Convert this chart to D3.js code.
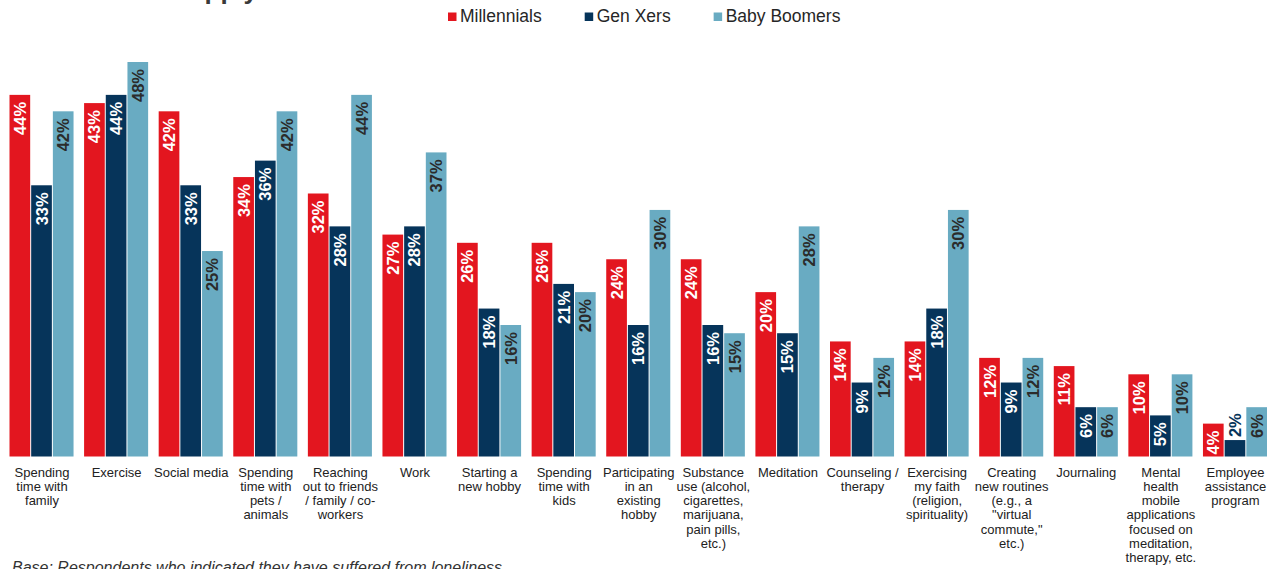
<!DOCTYPE html>
<html>
<head>
<meta charset="utf-8">
<script src="https://cdn.jsdelivr.net/npm/d3@7"></script>
<style>
  html, body { margin: 0; padding: 0; background: #fff; overflow: hidden; }
  svg { display: block; font-family: "Liberation Sans", Arial, sans-serif; }
</style>
</head>
<body>
<script>
// categories, each one is a list of label lines
var categories = [
  ["Spending", "time with", "family"],
  ["Exercise"],
  ["Social media"],
  ["Spending", "time with", "pets /", "animals"],
  ["Reaching", "out to friends", "/ family / co-", "workers"],
  ["Work"],
  ["Starting a", "new hobby"],
  ["Spending", "time with", "kids"],
  ["Participating", "in an", "existing", "hobby"],
  ["Substance", "use (alcohol,", "cigarettes,", "marijuana,", "pain pills,", "etc.)"],
  ["Meditation"],
  ["Counseling /", "therapy"],
  ["Exercising", "my faith", "(religion,", "spirituality)"],
  ["Creating", "new routines", "(e.g., a", "\"virtual", "commute,\"", "etc.)"],
  ["Journaling"],
  ["Mental", "health", "mobile", "applications", "focused on", "meditation,", "therapy, etc."],
  ["Employee", "assistance", "program"]
];

var seriesNames = ["Millennials", "Gen Xers", "Baby Boomers"];

var millennials = [44, 43, 42, 34, 32, 27, 26, 26, 24, 24, 20, 14, 14, 12, 11, 10, 4];
var genXers     = [33, 44, 33, 36, 28, 28, 18, 21, 16, 16, 15,  9, 18,  9,  6,  5, 2];
var boomers     = [42, 48, 25, 42, 44, 37, 16, 20, 30, 15, 28, 12, 30, 12,  6, 10, 6];

var colors = ["#e3161f", "#06345a", "#69abc2"];
var labelColors = ["#ffffff", "#ffffff", "#2b2b2b"];

var width = 1267, height = 569;
var baseY = 456.5, topY = 62;

var svg = d3.select("body").append("svg")
  .attr("width", width)
  .attr("height", height);

var catKeys = categories.map(function(d, i) { return "c" + i; });

var x0 = d3.scaleBand()
  .domain(catKeys)
  .range([9.5, 1268])
  .paddingInner(0.128)
  .paddingOuter(0);

var x1 = d3.scaleBand()
  .domain(seriesNames)
  .range([0, x0.bandwidth()]);

var y = d3.scaleLinear().domain([0, 48]).range([baseY, topY]);

var allSeries = [millennials, genXers, boomers];
var rows = [];
catKeys.forEach(function(k, i) {
  seriesNames.forEach(function(s, j) {
    rows.push({cat: k, series: s, si: j, value: allSeries[j][i]});
  });
});

// title (cut off at top in the original)
svg.append("text")
  .attr("x", 258)
  .attr("y", -1)
  .attr("text-anchor", "end")
  .attr("font-size", 26)
  .attr("font-weight", "bold")
  .attr("fill", "#3a3a3a")
  .text("Coping activities - select all that apply");

// legend
var lg = svg.append("g");
var lx = 448;
seriesNames.forEach(function(s, i) {
  lg.append("rect")
    .attr("x", lx).attr("y", 12.5)
    .attr("width", 8.5).attr("height", 8.5)
    .attr("fill", colors[i]);
  var t = lg.append("text")
    .attr("x", lx + 12).attr("y", 22)
    .attr("font-size", 17.5)
    .attr("fill", "#262626")
    .text(s);
  lx += 12 + t.node().getComputedTextLength() + 43;
});

// bars
var bars = svg.append("g");
bars.selectAll("rect")
  .data(rows)
  .enter()
  .append("rect")
  .attr("x", function(d) { return x0(d.cat) + x1(d.series); })
  .attr("y", function(d) { return y(d.value); })
  .attr("width", x1.bandwidth() - 1)
  .attr("height", function(d) { return baseY - y(d.value); })
  .attr("fill", function(d) { return colors[d.si]; });

// value labels, rotated
var labels = svg.append("g");
rows.forEach(function(d) {
  var cx = x0(d.cat) + x1(d.series) + (x1.bandwidth() - 1) / 2;
  var top = y(d.value);
  var t = labels.append("text")
    .attr("font-size", 16.5)
    .attr("font-weight", "bold")
    .attr("dominant-baseline", "central")
    .text(d.value + "%");
  var len = t.node().getComputedTextLength();
  if (len + 9 > baseY - top) {
    t.attr("text-anchor", "start")
      .attr("fill", colors[d.si])
      .attr("transform", "translate(" + cx + "," + (top - 3) + ") rotate(-90)");
  } else {
    t.attr("text-anchor", "end")
      .attr("fill", labelColors[d.si])
      .attr("transform", "translate(" + cx + "," + (top + 7) + ") rotate(-90)");
  }
});

// category labels
var cl = svg.append("g");
categories.forEach(function(lines, i) {
  var t = cl.append("text")
    .attr("text-anchor", "middle")
    .attr("font-size", 13)
    .attr("fill", "#222")
    .attr("x", x0(catKeys[i]) + x0.bandwidth() / 2)
    .attr("y", 476.5);
  lines.forEach(function(line, j) {
    t.append("tspan")
      .attr("x", x0(catKeys[i]) + x0.bandwidth() / 2)
      .attr("dy", j === 0 ? 0 : 14.3)
      .text(line);
  });
});

// base note
svg.append("text")
  .attr("x", 12)
  .attr("y", 572.5)
  .attr("font-size", 16)
  .attr("font-style", "italic")
  .attr("fill", "#333")
  .text("Base: Respondents who indicated they have suffered from loneliness");
</script>
</body>
</html>
